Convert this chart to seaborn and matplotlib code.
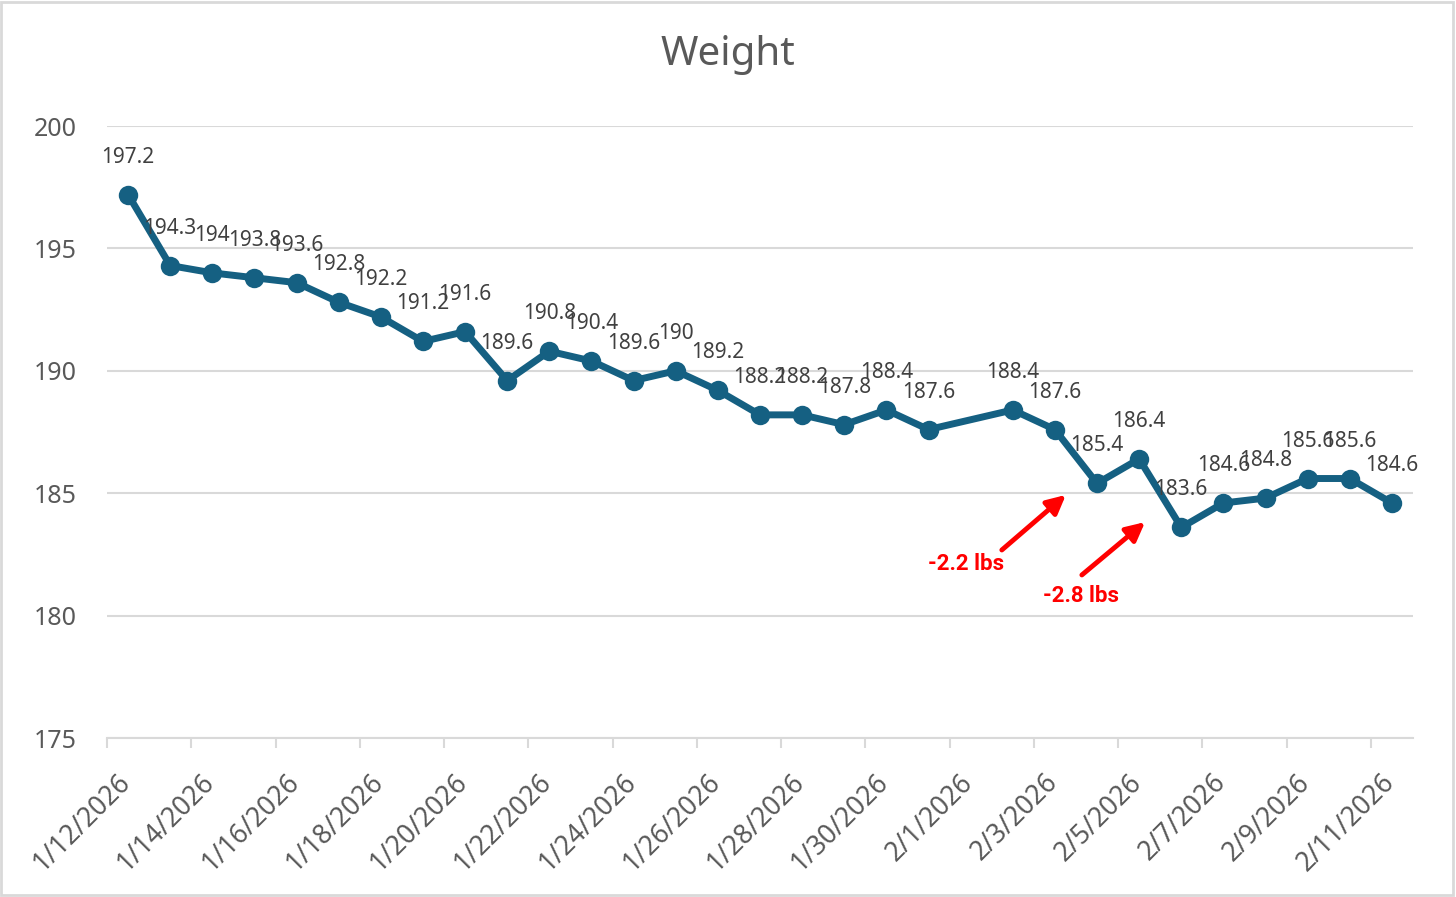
import pandas as pd
import seaborn as sns
import matplotlib.pyplot as plt
from matplotlib.patches import Rectangle

# daily weigh-ins (no entry on 2/1)
dates = ['1/12/2026', '1/13/2026', '1/14/2026', '1/15/2026', '1/16/2026', '1/17/2026',
         '1/18/2026', '1/19/2026', '1/20/2026', '1/21/2026', '1/22/2026', '1/23/2026',
         '1/24/2026', '1/25/2026', '1/26/2026', '1/27/2026', '1/28/2026', '1/29/2026',
         '1/30/2026', '1/31/2026', '2/2/2026', '2/3/2026', '2/4/2026', '2/5/2026',
         '2/6/2026', '2/7/2026', '2/8/2026', '2/9/2026', '2/10/2026', '2/11/2026']
weights = [197.2, 194.3, 194, 193.8, 193.6, 192.8, 192.2, 191.2, 191.6, 189.6,
           190.8, 190.4, 189.6, 190, 189.2, 188.2, 188.2, 187.8, 188.4, 187.6,
           188.4, 187.6, 185.4, 186.4, 183.6, 184.6, 184.8, 185.6, 185.6, 184.6]

y_ticks = [175, 180, 185, 190, 195, 200]

# red callouts: text, text pos, arrow tail, arrow tip (day index, lbs)
notes = [('-2.2 lbs', (19.9, 182.1), (20.74, 182.68), (22.26, 184.93)),
         ('-2.8 lbs', (22.62, 180.8), (22.64, 181.66), (24.14, 183.82))]

df = pd.DataFrame({'date': pd.to_datetime(dates, format='%m/%d/%Y'), 'weight': weights})
start = df['date'].min()
end = df['date'].max()
df['day'] = (df['date'] - start).dt.days

line_color = '#156082'
grid_color = '#d9d9d9'
text_color = '#595959'

sns.set_theme(style='white')
plt.rcParams['font.family'] = ['Noto Sans', 'DejaVu Sans']

fig = plt.figure(figsize=(14.56, 8.97), dpi=100)
ax = fig.add_axes([107/1456, 1 - 738/897, 1306/1456, 612/897])

sns.lineplot(data=df, x='day', y='weight', ax=ax, color=line_color, lw=5,
             marker='o', markersize=14, markeredgewidth=0, zorder=3)

# data labels above each point
for d, w in zip(df['day'], df['weight']):
    ax.annotate(f'{w:g}', (d, w), xytext=(0, 27), textcoords='offset points',
                ha='center', va='center', fontsize=15, color='#404040', zorder=4)

ax.set_ylim(175, 200)
ax.set_yticks(y_ticks)
ax.yaxis.grid(True, color=grid_color, lw=1.5)
ax.set_axisbelow(True)

n_days = (end - start).days
ax.set_xlim(-0.5, n_days + 0.5)
tick_days = list(range(0, n_days + 1, 2))
tick_dates = [start + pd.Timedelta(days=d) for d in tick_days]
# label anchors nudged a little right so the rotated text ends under the point
ax.set_xticks([d + 0.2 for d in tick_days])
ax.set_xticklabels([f'{t.month}/{t.day}/{t.year}' for t in tick_dates])
ax.set_xticks([d - 0.5 for d in tick_days], minor=True)
plt.setp(ax.get_xticklabels(), rotation=45, ha='right', va='top')

ax.tick_params(axis='x', which='major', length=0, pad=22, labelsize=19, labelcolor=text_color)
ax.tick_params(axis='x', which='minor', length=7, width=1.5, color=grid_color, bottom=True)
ax.tick_params(axis='y', length=0, pad=22, labelsize=18, labelcolor=text_color)

for side in ['top', 'right', 'left']:
    ax.spines[side].set_visible(False)
ax.spines['bottom'].set_color(grid_color)
ax.spines['bottom'].set_linewidth(1.5)
ax.set_xlabel('')
ax.set_ylabel('')

for txt, tpos, tail, tip in notes:
    ax.annotate('', xy=tip, xytext=tail,
                arrowprops=dict(arrowstyle='-|>', color='#ff0000', lw=3.5, mutation_scale=28,
                                shrinkA=0, shrinkB=0))
    ax.text(tpos[0], tpos[1], txt, ha='center', va='center', fontsize=16,
            fontweight='bold', color='#ff0000', family=['Roboto', 'DejaVu Sans'])

fig.text(0.5, 1 - 55/897, 'Weight', ha='center', va='center', fontsize=29, color=text_color)

fig.patches.append(Rectangle((0.001, 0.002), 0.997, 0.996, transform=fig.transFigure,
                             fill=False, edgecolor=grid_color, lw=2))

fig.savefig('out.png', dpi=100)
